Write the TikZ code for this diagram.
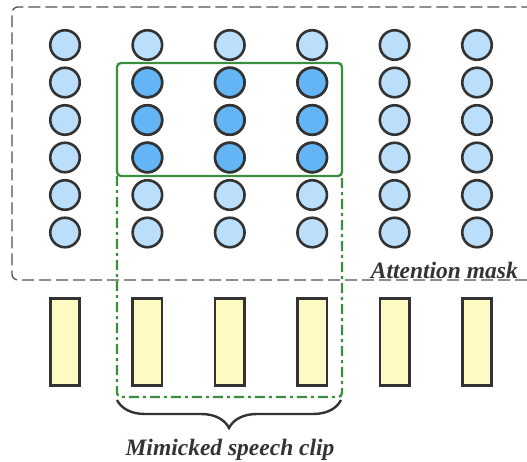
\documentclass[tikz,border=0pt]{standalone}
\usepackage{fontspec}
\setmainfont{Liberation Serif}
\usetikzlibrary{decorations.pathreplacing}

\definecolor{tokenblue}{HTML}{BBDEFB}
\definecolor{maskedblue}{HTML}{64B5F6}
\definecolor{frameyellow}{HTML}{FFF9C4}
\definecolor{clipgreen}{HTML}{3B8E40}
\definecolor{edgegray}{HTML}{333333}

\tikzset{
    token/.style={circle, draw=edgegray, line width=2.6pt, fill=tokenblue,
        minimum size=29.5pt, inner sep=0pt},
    masked/.style={token, fill=maskedblue},
    frame/.style={rectangle, draw=edgegray, line width=2.6pt, fill=frameyellow,
        minimum width=29.5pt, minimum height=87.5pt, inner sep=0pt},
    caption/.style={font=\fontsize{23.5}{26}\selectfont\bfseries\itshape, text=edgegray, inner sep=0pt}
}

\begin{document}
\begin{tikzpicture}[x=1pt, y=-1pt]
        \useasboundingbox (0,0) rectangle (527,462);

        % attention mask region
        \draw[edgegray!85, line width=1.3pt, dash pattern=on 12pt off 5pt, rounded corners=6pt]
            (527,280) -- (12,280) -- (12,7) -- (527,7);
        \node[caption, anchor=base east] (mask) at (518,278) {Attention mask};

        % token grid, 6 columns x 6 rows
        \foreach \c in {1,...,6} {
            \foreach \r in {1,...,6} {
                \node[token] (t-\c-\r) at ({65+82.4*(\c-1)}, {45+37.5*(\r-1)}) {};
            }
            \node[frame] (f-\c) at ({65+82.4*(\c-1)}, 342) {};
        }
        \foreach \c in {2,3,4} {
            \foreach \r in {2,3,4} {
                \node[masked] at (t-\c-\r) {};
            }
        }

        % clip region
        \draw[clipgreen, line width=2.3pt, rounded corners=4pt] (117,63) rectangle (342,176);
        \draw[clipgreen, line width=2.3pt, dash pattern=on 10pt off 4pt on 3pt off 4pt, rounded corners=4pt]
            (117,176) -- (117,397) -- (342,397) -- (342,176);

        \draw[edgegray, line width=2.4pt, decorate, decoration={brace, amplitude=28pt, mirror}]
            (117,400) -- (341,400) coordinate[midway] (tip);
        \node[caption, anchor=base] (clip) at (230,455) {Mimicked speech clip};
    \end{tikzpicture}
\end{document}
